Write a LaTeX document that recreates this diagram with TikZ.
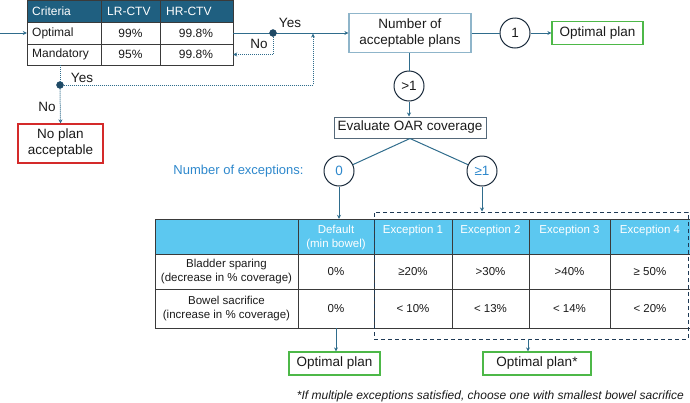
\documentclass[tikz,border=0pt]{standalone}
\usepackage{fontspec}
\setmainfont{Liberation Sans}
\usetikzlibrary{arrows.meta,calc}
\definecolor{linecol}{HTML}{2F6C8C}
\definecolor{hdrdark}{HTML}{1F5F80}
\definecolor{numbord}{HTML}{8FB5CA}
\definecolor{evalbord}{HTML}{55697A}
\definecolor{circbord}{HTML}{1A2B3C}
\definecolor{dotfill}{HTML}{1F4A66}
\definecolor{greenb}{HTML}{4DB848}
\definecolor{redb}{HTML}{D42A2A}
\definecolor{bluetxt}{HTML}{2E88CC}
\definecolor{hdrlight}{HTML}{5CC8F0}
\definecolor{tblline}{HTML}{3A3A3A}
\definecolor{dashcol}{HTML}{1F3A55}
\definecolor{txt}{HTML}{1A1A1A}
\newcommand\fL{\fontsize{13.5}{16}\selectfont}
\newcommand\fT{\fontsize{12}{14}\selectfont}
\newcommand\fS{\fontsize{11.5}{14}\selectfont}
\newcommand\fF{\fontsize{12}{14}\selectfont}
\begin{document}
\begin{tikzpicture}[x=1pt,y=-1pt,
  conn/.style={line width=1pt, draw=linecol},
  arr/.style={conn, -{Stealth[length=4pt,width=4pt]}},
  dotl/.style={line width=1pt, draw=linecol, dash pattern=on 1pt off 1pt},
  darr/.style={dotl, -{Stealth[length=4pt,width=4pt]}},
  boxn/.style={draw, line width=1.2pt, align=center, inner sep=0pt, text=txt, font=\fL},
  circn/.style={circle, draw=circbord, line width=1pt, minimum size=30pt, inner sep=0pt, font=\fL, text=txt},
  dotn/.style={circle, fill=dotfill, draw=dotfill, minimum size=7pt, inner sep=0pt},
  lbl/.style={font=\fL, text=txt, inner sep=0pt},
  ttxt/.style={font=\fT, text=txt, inner sep=0pt},
  btxt/.style={font=\fS, text=txt, align=center, inner sep=0pt},
  htxt/.style={font=\fS, text=white, align=center, inner sep=0pt, anchor=north}
]
\useasboundingbox (0,0) rectangle (690,402);

% ---------- top criteria table ----------
\fill[hdrdark] (27,0) rectangle (233,22);
\draw[tblline, line width=0.9pt] (27,22) -- (233,22) (27,44) -- (233,44)
  (101,0) -- (101,65) (160,0) -- (160,65);
\draw[tblline, line width=1pt] (27,0) rectangle (233,65);
\node[ttxt, anchor=west, text=white] (hcrit) at (32,11) {Criteria};
\node[ttxt, anchor=west, text=white] (hlr) at (107,11) {LR-CTV};
\node[ttxt, anchor=west, text=white] (hhr) at (166,11) {HR-CTV};
\node[ttxt, anchor=west] (ropt) at (32,33) {Optimal};
\node[ttxt] (ropt1) at (130.5,33) {99\%};
\node[ttxt] (ropt2) at (196,33) {99.8\%};
\node[ttxt, anchor=west] (rman) at (32,54.5) {Mandatory};
\node[ttxt] (rman1) at (130.5,54.5) {95\%};
\node[ttxt] (rman2) at (196,54.5) {99.8\%};
\node[minimum width=206pt, minimum height=65pt, inner sep=0pt] (toptab) at (130,32.5) {};

% ---------- boxes and circles ----------
\node[boxn, draw=numbord, minimum width=122pt, minimum height=39pt] (numbox) at (410,33) {Number of\\acceptable plans};
\node[circn] (c1) at (515,33) {1};
\node[boxn, draw=greenb, minimum width=91pt, minimum height=23pt] (opt1) at (597.5,33) {Optimal plan};
\node[circn] (cg) at (409,86) {>1};
\node[boxn, draw=evalbord, line width=1pt, minimum width=152pt, minimum height=21pt] (evalb) at (410,127.5) {Evaluate OAR coverage};
\node[circn, text=bluetxt] (c0) at (339,171) {0};
\node[circn, text=bluetxt] (cge) at (482,171) {≥1};
\node[font=\fontsize{13}{15}\selectfont, text=bluetxt, inner sep=0pt] (nexc) at (238.5,171) {Number of exceptions:};
\node[boxn, draw=redb, minimum width=85pt, minimum height=39pt] (noplan) at (60.5,143.5) {No plan\\acceptable};

% ---------- top connectors ----------
\coordinate (inL) at (0,33);
\draw[arr] (inL) -- (inL -| toptab.west);
\draw[arr] (toptab.east |- numbox.west) -- (numbox.west);
\coordinate (d1c) at (273,33);
\coordinate (d1b) at (273,54.5);
\draw[darr] (d1c) -- (d1b) -- (d1b -| toptab.east);
\node[dotn] (d1) at (d1c) {};
\node[dotn] (d2) at (60,85) {};
\draw[dotl] (toptab.south -| d2) -- (d2);
\coordinate (jn) at (313,33.6);
\draw[darr] (d2) -| (jn);
\draw[darr] (d2) -- (noplan.north);
\node[lbl] (yes1) at (290,23) {Yes};
\node[lbl] (no1) at (259,44) {No};
\node[lbl] (yes2) at (82,78) {Yes};
\node[lbl] (no2) at (47,107) {No};

\draw[conn] (numbox.east) -- (c1);
\draw[arr] (c1) -- (opt1.west);
\draw[conn] (numbox.south -| cg) -- (cg);
\draw[arr] (cg) -- (cg |- evalb.north);
\draw[conn] (evalb.south) -- (c0);
\draw[conn] (evalb.south) -- (cge);

% ---------- bottom table ----------
\fill[hdrlight] (155,219) rectangle (691,254);
\draw[tblline, line width=1pt] (155,219) rectangle (691,328);
\draw[tblline, line width=1pt] (155,254) -- (691,254) (155,289) -- (691,289)
  (298,219) -- (298,328) (374,219) -- (374,328) (452,219) -- (452,328)
  (529,219) -- (529,328) (610,219) -- (610,328);
\node[minimum width=536pt, minimum height=109pt, inner sep=0pt] (btab) at (423,273.5) {};
\node[htxt] (hdef) at (336,224.5) {Default\\(min bowel)};
\node[htxt] (he1) at (413,224.5) {Exception 1};
\node[htxt] (he2) at (490.5,224.5) {Exception 2};
\node[htxt] (he3) at (569.5,224.5) {Exception 3};
\node[htxt] (he4) at (650,224.5) {Exception 4};
\node[btxt] (rb) at (226.5,271.5) {Bladder sparing\\(decrease in \% coverage)};
\node[btxt] (rb0) at (336,272) {0\%};
\node[btxt] (rb1) at (413,272) {≥20\%};
\node[btxt] (rb2) at (490.5,272) {>30\%};
\node[btxt] (rb3) at (569.5,272) {>40\%};
\node[btxt] (rb4) at (650,272) {≥ 50\%};
\node[btxt] (rs) at (226.5,308.5) {Bowel sacrifice\\(increase in \% coverage)};
\node[btxt] (rs0) at (336,309) {0\%};
\node[btxt] (rs1) at (413,309) {< 10\%};
\node[btxt] (rs2) at (490.5,309) {< 13\%};
\node[btxt] (rs3) at (569.5,309) {< 14\%};
\node[btxt] (rs4) at (650,309) {< 20\%};

\node[draw=dashcol, line width=1pt, dash pattern=on 4pt off 3pt, minimum width=314pt, minimum height=127pt, inner sep=0pt] (dbox) at (531,275.5) {};

\node[boxn, draw=greenb, minimum width=91pt, minimum height=23pt] (opt2) at (334.5,363.5) {Optimal plan};
\node[boxn, draw=greenb, minimum width=108pt, minimum height=23pt] (opt3) at (537,363.5) {Optimal plan*};

\draw[arr] (c0.south) -- (c0.south |- btab.north);
\draw[arr] (cge.south) -- (cge.south |- dbox.north);
\draw[arr] (hdef.south |- btab.south) -- (hdef.south |- opt2.north);
\coordinate (dbot) at (528,339);
\draw[arr] (dbot) -- (dbot |- opt3.north);

\node[font=\fF\itshape, text=txt, inner sep=0pt, anchor=east] (foot) at (684,396) {*If multiple exceptions satisfied, choose one with smallest bowel sacrifice};
\end{tikzpicture}
\end{document}
